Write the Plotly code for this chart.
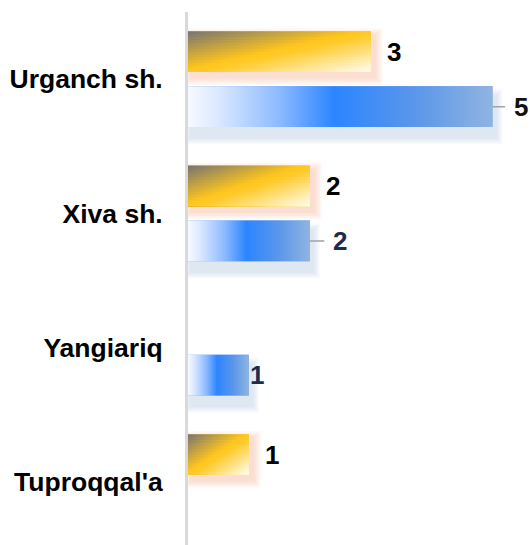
import plotly.graph_objects as go

# ---------------- data ----------------
categories = ["Urganch sh.", "Xiva sh.", "Yangiariq", "Tuproqqal'a"]
series_yellow = [3, 2, 0, 1]
series_blue = [5, 2, 1, 0]

# ---------------- style ----------------
FONT = "Liberation Sans, Arial, sans-serif"
PX_X = 1 / 60.9      # data units per pixel (value axis)
PX_Y = 1 / 134.3     # data units per pixel (category axis)
BAR_H = 40.7 * PX_Y
OFF = 27.5 * PX_Y

YELLOW_CS = [[0.0, "#757473"], [0.47, "#ffc61c"], [0.55, "#ffcb2c"], [1.0, "#fffdf3"]]
BLUE_CS = [[0.0, "#f6f9ff"], [0.1, "#dbe8ff"], [0.3, "#8cbaff"], [0.48, "#2c85ff"],
           [0.75, "#5b97ea"], [1.0, "#90b4e0"]]

blue_label_colors = ["#111111", "#1b2c4c", "#1b2c4c"]
blue_label_shift = [28, 30, 8]
blue_label_leader = [True, True, False]

fig = go.Figure()


def rect(x0, x1, y0, y1):
    return [x0, x1, x1, x0, x0], [y0, y0, y1, y1, y0]


def add_shadow(v, yc, color, dx, dy, blur, alpha, layers=5):
    if v <= 0:
        return
    for i in range(layers):
        e = blur * (i + 1) / layers
        xs, ys = rect(0 + (dx - e) * PX_X, v + (dx + e) * PX_X,
                      yc - BAR_H / 2 + (dy - e) * PX_Y, yc + BAR_H / 2 + (dy + e) * PX_Y)
        fig.add_trace(go.Scatter(x=xs, y=ys, fill="toself", mode="lines",
                                 line=dict(width=0, color="rgba(0,0,0,0)"),
                                 fillcolor=f"rgba({color},{alpha})",
                                 hoverinfo="skip", showlegend=False))


# shadows
for i, c in enumerate(categories):
    add_shadow(series_yellow[i], i - OFF, "244,150,100", 4, 5, 8, 0.065)
    add_shadow(series_blue[i], i + OFF, "160,185,215", 3, 10, 7, 0.07)

# base bars
fig.add_trace(go.Bar(y=list(range(len(categories))), x=series_yellow, orientation="h",
                     width=BAR_H, offset=-OFF - BAR_H / 2, marker=dict(color="#ffc933", line_width=0),
                     name="yellow", showlegend=False, hoverinfo="skip"))
fig.add_trace(go.Bar(y=list(range(len(categories))), x=series_blue, orientation="h",
                     width=BAR_H, offset=OFF - BAR_H / 2, marker=dict(color="#5a9af5", line_width=0),
                     name="blue", showlegend=False, hoverinfo="skip"))

# gradient overlays
N = 14
for i, v in enumerate(series_yellow):
    if v <= 0:
        continue
    ytop = i - OFF - BAR_H / 2
    ybot = ytop + BAR_H
    for k in range(N):
        vk = (k + 0.5) / N
        yk = ytop + k * BAR_H / N
        xs, ys = rect(0, v, yk, ybot)
        fig.add_trace(go.Scatter(x=xs, y=ys, fill="toself", mode="lines",
                                 line=dict(width=0, color="rgba(0,0,0,0)"),
                                 fillgradient=dict(type="horizontal", colorscale=YELLOW_CS,
                                                   start=-vk * v, stop=(2 - vk) * v),
                                 hoverinfo="skip", showlegend=False))

for i, v in enumerate(series_blue):
    if v <= 0:
        continue
    yc = i + OFF
    xs, ys = rect(0, v, yc - BAR_H / 2, yc + BAR_H / 2)
    fig.add_trace(go.Scatter(x=xs, y=ys, fill="toself", mode="lines",
                             line=dict(width=0, color="rgba(0,0,0,0)"),
                             fillgradient=dict(type="horizontal", colorscale=BLUE_CS, start=0, stop=v),
                             hoverinfo="skip", showlegend=False))

# labels
ann = []
for i, v in enumerate(series_yellow):
    if v <= 0:
        continue
    ann.append(dict(x=v, y=i - OFF, xref="x", yref="y", text=f"<b>{v}</b>", showarrow=False,
                    xanchor="center", yanchor="middle", xshift=23,
                    font=dict(family=FONT, size=26, color="#000000")))
j = 0
for i, v in enumerate(series_blue):
    if v <= 0:
        continue
    if blue_label_leader[j]:
        ann.append(dict(x=v, y=i + OFF, xref="x", yref="y", text=f"<b>{v}</b>", showarrow=True,
                        ax=blue_label_shift[j], ay=0, arrowhead=0, arrowwidth=1.5, arrowcolor="#a3a3a3",
                        standoff=0, startstandoff=7,
                        font=dict(family=FONT, size=26, color=blue_label_colors[j])))
    else:
        ann.append(dict(x=v, y=i + OFF, xref="x", yref="y", text=f"<b>{v}</b>", showarrow=False,
                        xanchor="center", yanchor="middle", xshift=blue_label_shift[j],
                        font=dict(family=FONT, size=26, color=blue_label_colors[j])))
    j += 1

fig.update_layout(
    width=530, height=545,
    margin=dict(l=188, r=0, t=12, b=0, autoexpand=False),
    paper_bgcolor="white", plot_bgcolor="white",
    barmode="overlay",
    showlegend=False,
    annotations=ann,
    xaxis=dict(range=[0, 342 * PX_X], visible=False, fixedrange=True),
    yaxis=dict(range=[3 + 63 * PX_Y, -0.5], tickmode="array",
               tickvals=list(range(len(categories))), ticktext=[f"<b>{c}</b>" for c in categories],
               showline=True, linecolor="#d9d9d9", linewidth=3, ticks="",
               showgrid=False, zeroline=False, ticklabelstandoff=17, automargin=False,
               tickfont=dict(family=FONT, size=26.5, color="#000000"), fixedrange=True),
)

fig.write_html("out.html", config={"displayModeBar": False},
               post_script="document.body.style.margin='0';document.body.style.overflow='hidden';")
